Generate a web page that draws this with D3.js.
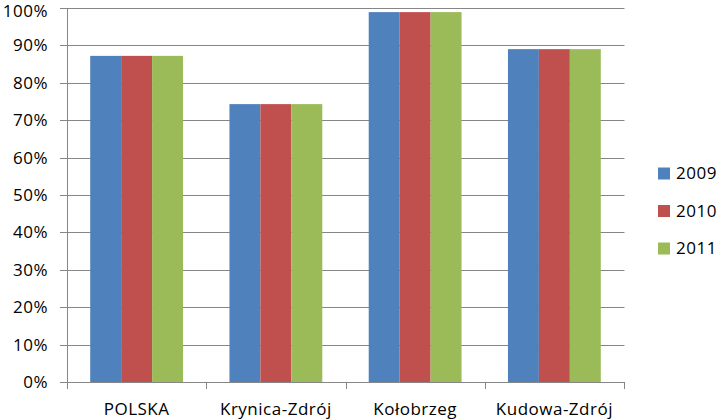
<!DOCTYPE html>
<html><head><meta charset="utf-8">
<script src="https://cdn.jsdelivr.net/npm/d3@7/dist/d3.min.js"></script>
<style>body{margin:0;background:#fff;} svg{display:block;} text{font-family:"Open Sans",Lato,sans-serif;font-size:17px;letter-spacing:0.5px;fill:#000;}</style>
</head><body><svg id="c" width="721" height="419"></svg>
<script>
const categories = ["POLSKA", "Krynica-Zdrój", "Kołobrzeg", "Kudowa-Zdrój"];
const seriesNames = ["2009", "2010", "2011"];
const values2009 = [87.2, 74.3, 98.9, 89.0];
const values2010 = [87.2, 74.3, 98.9, 89.0];
const values2011 = [87.2, 74.3, 98.9, 89.0];
const colors = ["#4F81BD", "#C0504D", "#9BBB59"];
const yTicks = [0,10,20,30,40,50,60,70,80,90,100];

const series = [values2009, values2010, values2011];
const svg = d3.select("#c");
const m = {left:67, right:624, top:8, bottom:382};
const x = d3.scaleBand().domain(categories).range([m.left, m.right]).paddingInner(0).paddingOuter(0);
const y = d3.scaleLinear().domain([0,100]).range([m.bottom, m.top]);
const inner = d3.scaleBand().domain(seriesNames).range([0, x.bandwidth()]).paddingOuter(0.75).paddingInner(0);
const grid = "#868686";

// gridlines
svg.append("g").selectAll("line").data(yTicks).join("line")
  .attr("x1", m.left - 7).attr("x2", m.right + 0.5)
  .attr("y1", d => Math.round(y(d)) + 0.5).attr("y2", d => Math.round(y(d)) + 0.5)
  .attr("stroke", grid).attr("stroke-width", 1);

// y labels
svg.append("g").selectAll("text").data(yTicks).join("text")
  .attr("x", 48).attr("y", d => Math.max(y(d), 11)).attr("dy", "0.35em").attr("text-anchor", "end")
  .text(d => d + "%");

// bars
categories.forEach((c, ci) => {
  seriesNames.forEach((s, si) => {
    svg.append("rect")
      .attr("x", x(c) + inner(s)).attr("width", inner.bandwidth())
      .attr("y", y(series[si][ci])).attr("height", y(0) - y(series[si][ci]))
      .attr("fill", colors[si]);
  });
});

// y axis line
svg.append("line").attr("x1", m.left + 0.5).attr("x2", m.left + 0.5)
  .attr("y1", m.top).attr("y2", m.bottom + 0.5).attr("stroke", grid);
// x axis line + ticks
svg.append("line").attr("x1", m.left).attr("x2", m.right + 0.5)
  .attr("y1", m.bottom + 0.5).attr("y2", m.bottom + 0.5).attr("stroke", grid);
const xt = categories.map(c => x(c)).concat([m.right]);
svg.append("g").selectAll("line").data(xt).join("line")
  .attr("x1", d => Math.round(d) + 0.5).attr("x2", d => Math.round(d) + 0.5)
  .attr("y1", m.bottom).attr("y2", m.bottom + 7).attr("stroke", grid);

// category labels
svg.append("g").selectAll("text").data(categories).join("text")
  .attr("x", d => x(d) + x.bandwidth()/2).attr("y", 409).attr("dy", "0.35em")
  .attr("text-anchor", "middle").text(d => d);

// legend
const lg = svg.append("g");
seriesNames.forEach((s, i) => {
  const cy = 173.5 + i * 37.5;
  lg.append("rect").attr("x", 658).attr("y", cy - 6).attr("width", 12).attr("height", 12).attr("fill", colors[i]);
  lg.append("text").attr("x", 676).attr("y", cy).attr("dy", "0.35em").text(s);
});
</script></body></html>
